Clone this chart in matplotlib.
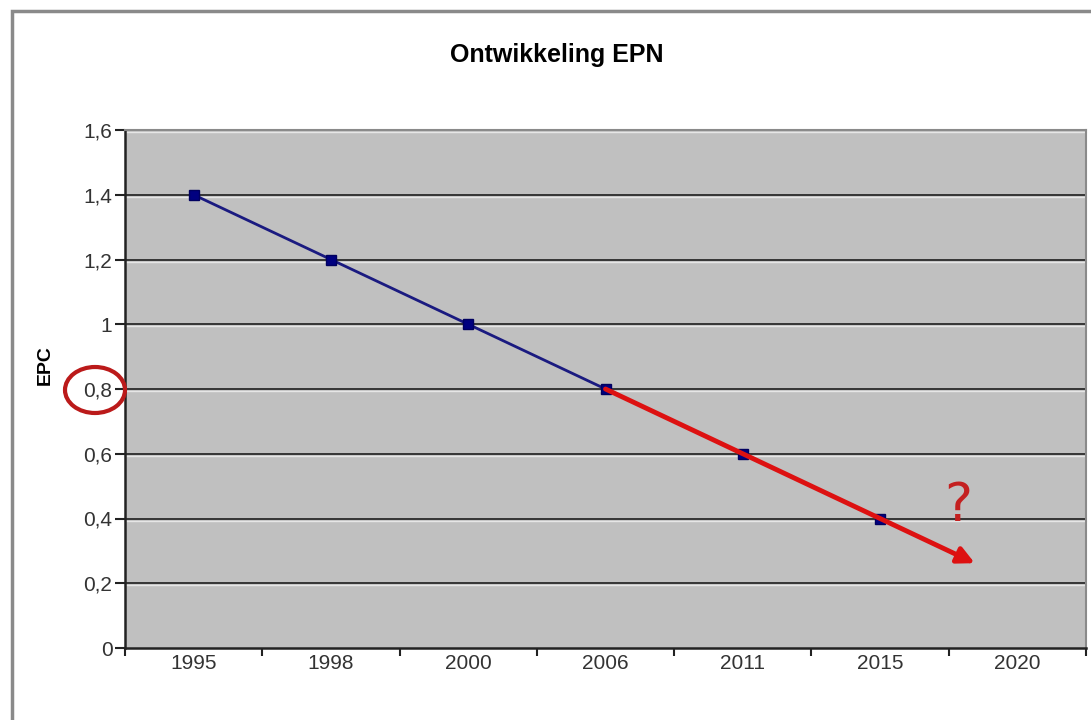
import matplotlib.pyplot as plt
import matplotlib.transforms as mtransforms
from matplotlib.patches import Ellipse, Rectangle

plt.rcParams['font.family'] = ['Liberation Sans', 'DejaVu Sans']

years = ['1995', '1998', '2000', '2006', '2011', '2015', '2020']
epc = [1.4, 1.2, 1.0, 0.8, 0.6, 0.4]          # no value for 2020
trend_start = (3, 0.8)                          # 2006
trend_end = (5.69, 0.262)                       # arrow head, past 2015
yticks = [0, 0.2, 0.4, 0.6, 0.8, 1.0, 1.2, 1.4, 1.6]
ylabels = ['0', '0,2', '0,4', '0,6', '0,8', '1', '1,2', '1,4', '1,6']

fig = plt.figure(figsize=(10.91, 7.2), dpi=100)
ax = fig.add_axes([125 / 1091, 72 / 720, 961 / 1091, 518 / 720])
ax.set_facecolor('#c0c0c0')

# chart frame
fig.patches.append(Rectangle((12 / 1091, -0.05), 1.0, (720 - 11) / 720 + 0.05,
                             transform=fig.transFigure, fill=False,
                             edgecolor='#8a8a8a', linewidth=2.5))

# gridlines: dark line with a light line just beneath
shift = mtransforms.ScaledTranslation(0, -2 / 100, fig.dpi_scale_trans)
ytrans = ax.get_yaxis_transform()
for v in yticks[1:]:
    ax.plot([0, 1], [v, v], color='#e6e6e6', lw=1.0, zorder=1,
            transform=ytrans + shift, clip_on=False)
    ax.plot([0, 1], [v, v], color='#2a2a2a', lw=1.3, zorder=1,
            transform=ytrans, clip_on=False)

x = list(range(len(epc)))
ax.plot(x, epc, color='#1a1a80', lw=2, marker='s', markersize=7,
        markerfacecolor='#000080', markeredgecolor='#000060', zorder=3)

ax.annotate('', xy=trend_end, xytext=trend_start,
            arrowprops=dict(arrowstyle='-|>,head_length=1.0,head_width=0.5',
                            color='#dd1111', lw=3.5, shrinkA=0, shrinkB=0),
            zorder=4)
ax.text(5.57, 0.44, '?', color='#c42020', fontsize=38, ha='center', va='center',
        fontfamily='DejaVu Sans', zorder=5)

ax.set_xlim(-0.5, len(years) - 0.5)
ax.set_ylim(0, 1.6)
ax.set_xticks(range(len(years)))
ax.set_xticklabels(years)
ax.set_xticks([i - 0.5 for i in range(len(years) + 1)], minor=True)
ax.tick_params(axis='x', which='major', length=0, pad=4, labelsize=15,
               labelcolor='#333333')
ax.tick_params(axis='x', which='minor', length=6, width=1.5, color='#222222',
               direction='out')
ax.set_yticks(yticks)
ax.set_yticklabels(ylabels)
ax.tick_params(axis='y', length=7, width=1.5, color='#222222', pad=2,
               labelsize=15, labelcolor='#333333')

for side in ['left', 'bottom']:
    ax.spines[side].set_color('#222222')
    ax.spines[side].set_linewidth(1.8)
for side in ['top', 'right']:
    ax.spines[side].set_color('#8a8a8a')
    ax.spines[side].set_linewidth(1.5)

fig.text(45 / 1091, (720 - 365) / 720, 'EPC', rotation=90, fontsize=14,
         fontweight='bold', ha='center', va='center')
fig.text(557 / 1091, (720 - 55) / 720, 'Ontwikkeling EPN', fontsize=18,
         fontweight='bold', ha='center', va='center')

# circle around the 0,8 label
fig.patches.append(Ellipse((95 / 1091, (720 - 390) / 720), 60 / 1091, 46 / 720,
                           transform=fig.transFigure, fill=False,
                           edgecolor='#bb1a1a', linewidth=3))

fig.savefig('out.png', dpi=100)
